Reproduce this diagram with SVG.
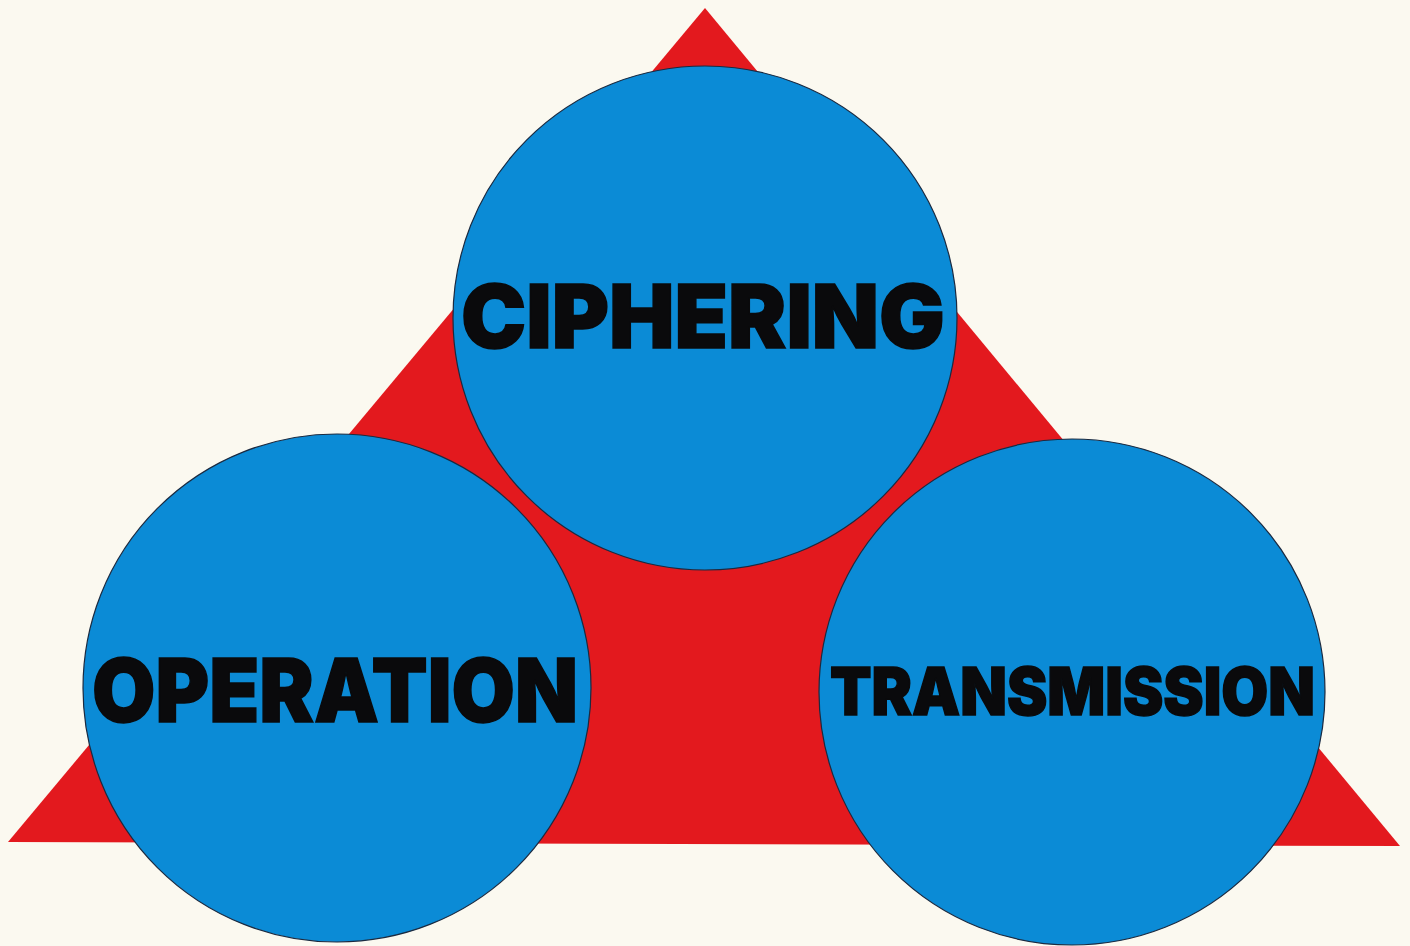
<svg xmlns="http://www.w3.org/2000/svg" width="1410" height="946" viewBox="0 0 1410 946">
  <style>
    .bg { fill: #fbf9f0; }
    .tri { fill: #e3191e; }
    .disc { fill: #0b8bd6; stroke: #1b2a40; stroke-width: 1.2; }
    .lbl { font-family: Inter, "Lato", "Liberation Sans", sans-serif; font-weight: 900; fill: #0a0a0c; stroke: #0a0a0c; stroke-width: 1.5; text-anchor: start; }
  </style>
  <rect class="bg" x="0" y="0" width="1410" height="946"/>
  <g id="triangle">
    <polygon class="tri" points="705,8 8,842 1400,846"/>
  </g>
  <g id="node-ciphering">
    <circle class="disc" cx="705" cy="318" r="252"/>
    <text class="lbl" x="461" y="348" font-size="88" textLength="484" lengthAdjust="spacingAndGlyphs">CIPHERING</text>
  </g>
  <g id="node-operation">
    <circle class="disc" cx="337" cy="688" r="254"/>
    <text class="lbl" x="92" y="722" font-size="88" textLength="486" lengthAdjust="spacingAndGlyphs">OPERATION</text>
  </g>
  <g id="node-transmission">
    <circle class="disc" cx="1072" cy="692" r="253"/>
    <text class="lbl" x="830" y="715" font-size="66" textLength="485" lengthAdjust="spacingAndGlyphs">TRANSMISSION</text>
  </g>
</svg>
